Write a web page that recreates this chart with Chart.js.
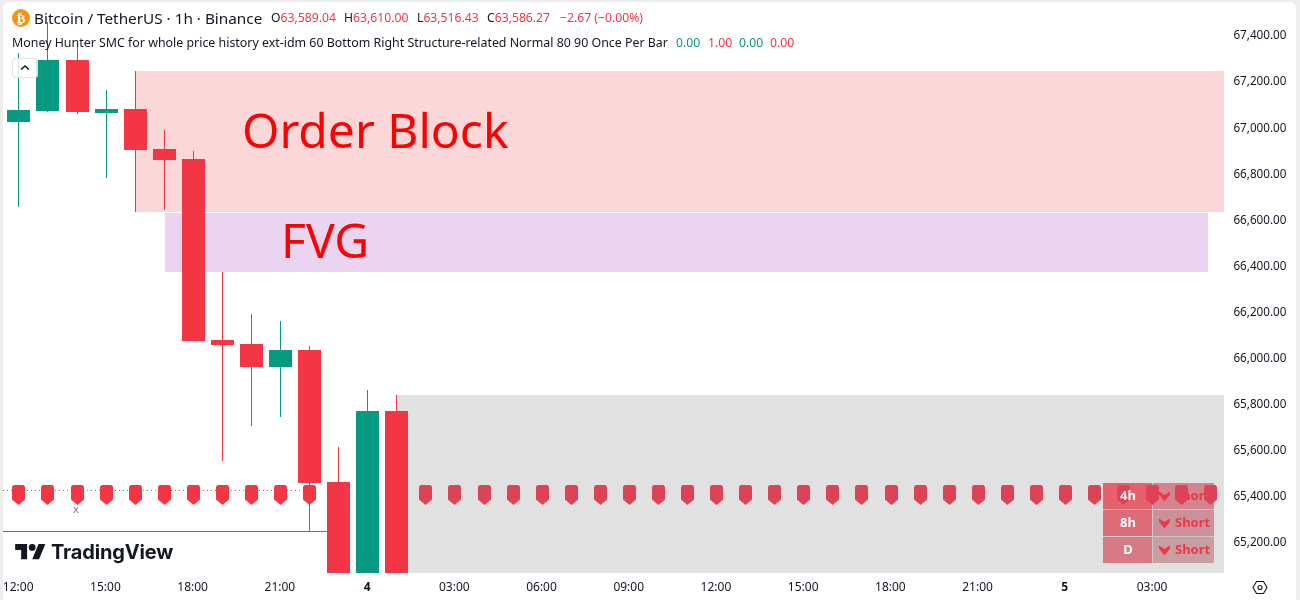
<!DOCTYPE html>
<html><head><meta charset="utf-8">
<script src="https://cdn.jsdelivr.net/npm/chart.js@4"></script>
<style>
html,body{margin:0;padding:0;width:1300px;height:600px;overflow:hidden;background:#eeeeee;font-family:"Noto Sans",sans-serif;color:#131722}
#card{position:absolute;left:3px;top:2px;width:1293px;height:620px;background:#fff;border-radius:6px}
canvas{position:absolute;left:0;top:0}
.t{position:absolute;white-space:nowrap;line-height:16px}
.r{color:#f23645}.g{color:#089981}
#btn{position:absolute;left:12px;top:58px;width:24px;height:18px;border:1px solid #e0e3eb;border-radius:3px;background:rgba(255,255,255,.8)}
</style></head><body>
<div id="card"></div>
<canvas id="c" width="1300" height="600"></canvas>
<svg style="position:absolute;left:12px;top:9px" width="18" height="18" viewBox="0 0 18 18"><circle cx="9" cy="9" r="9" fill="#f7931a"/><text x="9" y="13.5" font-size="13" font-weight="700" text-anchor="middle" fill="#fff" font-family="DejaVu Sans">₿</text></svg>
<div class="t" style="left:34px;top:10px;font-size:15.3px">Bitcoin / TetherUS · 1h · Binance</div>
<div class="t" style="left:271px;top:10px;font-size:12.2px">O<span class="r">63,589.04</span></div>
<div class="t" style="left:344px;top:10px;font-size:12.2px">H<span class="r">63,610.00</span></div>
<div class="t" style="left:417px;top:10px;font-size:12.2px">L<span class="r">63,516.43</span></div>
<div class="t" style="left:487px;top:10px;font-size:12.2px">C<span class="r">63,586.27</span></div>
<div class="t r" style="left:560px;top:10px;font-size:12.2px">−2.67 (−0.00%)</div>
<div class="t" style="left:12px;top:35px;font-size:12.4px">Money Hunter SMC for whole price history ext-idm 60 Bottom Right Structure-related Normal 80 90 Once Per Bar</div>
<div class="t g" style="left:676px;top:35px;font-size:12.2px">0.00</div>
<div class="t r" style="left:708px;top:35px;font-size:12.2px">1.00</div>
<div class="t g" style="left:739px;top:35px;font-size:12.2px">0.00</div>
<div class="t r" style="left:770px;top:35px;font-size:12.2px">0.00</div>
<div id="btn"><svg width="24" height="18" viewBox="0 0 24 18"><path d="M8 10.5l4-3.5 4 3.5" fill="none" stroke="#131722" stroke-width="1.5"/></svg></div>
<svg style="position:absolute;left:15px;top:544px" width="31" height="17" viewBox="0 0 36 20"><path d="M14 18H7V7H0V0h14v18zM28 18h-8L27.500 0h8L28 18z" fill="#131722"/><circle cx="20" cy="4" r="4" fill="#131722"/></svg>
<div class="t" style="left:51px;top:544px;font-size:20px;font-weight:700;font-family:Inter,sans-serif;letter-spacing:-.15px;color:#131722">TradingView</div>
<svg style="position:absolute;left:1252px;top:580px" width="16" height="15" viewBox="0 0 16 15"><path d="M4.5 1.5h7L15 7.5l-3.500 6h-7L1 7.500z" fill="none" stroke="#131722" stroke-width="1.100"/><circle cx="8" cy="7.500" r="2" fill="none" stroke="#131722" stroke-width="1.100"/></svg>
<script>
const xLabels=['12:00','','','15:00','','','18:00','','','21:00','','','4','','','03:00','','','06:00','','','09:00','','','12:00','','','15:00','','','18:00','','','21:00','','','5','','','03:00','',''];
const opens =[67018,67066,67287,67057,67075,66901,66858,66072,66055,65955,66029,65456,64900,65764];
const closes=[67070,67287,67062,67075,66897,66853,66068,66050,65955,66029,65452,64900,65764,64900];
const highs =[67318,67452,67348,67157,67239,66983,66892,66367,66185,66155,66046,65608,65855,65834];
const lows  =[66649,67062,67053,66775,66628,66636,66068,65547,65699,65738,65244,64800,64800,64800];
const markerValues=[65400,65400,65400,65400,65400,65400,65400,65400,65400,65400,65400,null,null,null,65400,65400,65400,65400,65400,65400,65400,65400,65400,65400,65400,65400,65400,65400,65400,65400,65400,65400,65400,65400,65400,65400,65400,65400,65400,65400,65400,65400];
const yTicks=[65200,65400,65600,65800,66000,66200,66400,66600,66800,67000,67200,67400];
const orderBlock=[66628,67239];
const fvg=[66367,66624];
const grayZone=[65061,65834];
const dottedLevel=65421;
const solidLevel=65244;
const tableRows=['4h','8h','D'];
const tableSignals=['Short','Short','Short'];

const UP='#089981',DOWN='#f23645';
const candleColor=opens.map((o,i)=>closes[i]>=o?UP:DOWN);

function shield(color){
  const c=document.createElement('canvas');c.width=13;c.height=20;
  const g=c.getContext('2d');g.fillStyle=color;g.beginPath();
  g.moveTo(2.5,0);g.lineTo(10.5,0);g.quadraticCurveTo(13,0,13,2.5);g.lineTo(13,14.5);g.lineTo(6.5,20);g.lineTo(0,14.5);g.lineTo(0,2.5);g.quadraticCurveTo(0,0,2.5,0);g.fill();
  return c;
}
const redShield=shield('#f23645'),darkShield=shield('#dc4356');

const noPad=s=>{s.paddingLeft=0;s.paddingRight=0;s.paddingTop=0;s.paddingBottom=0;};
const snap={id:'snap',afterDatasetsUpdate(ch){
  ch.data.datasets.forEach((d,k)=>{
    ch.getDatasetMeta(k).data.forEach(el=>{
      el.x=Math.floor(el.x)+0.5;
      el.y=Math.round(el.y);
      if(d.type==='bar')el.base=Math.round(el.base);
    });
  });
}};
const overlays={id:'overlays',
 beforeDatasetsDraw(ch){
  const g=ch.ctx,X=ch.scales.x,Y=ch.scales.y,R=1224;
  const band=(a,b,l,r,col)=>{const t=Math.round(Y.getPixelForValue(b)),u=Math.round(Y.getPixelForValue(a));g.fillStyle=col;g.fillRect(l,t,r-l,u-t);};
  const px=i=>Math.floor(X.getPixelForValue(i));
  g.save();
  band(orderBlock[0],orderBlock[1],px(4),R,'#fbd7da');
  band(fvg[0],fvg[1],px(5)+1,1208,'#ead4ef');
  band(grayZone[0],grayZone[1],px(13),R,'#e1e1e1');
  g.fillStyle='#ff0000';g.textBaseline='alphabetic';g.textAlign='left';
  g.font='48px "Noto Sans"';g.fillText('Order Block',242,148);
  g.fillText('FVG',281,258);
  const dy=Math.round(Y.getPixelForValue(dottedLevel))+.5;
  g.strokeStyle='#787b86';g.lineWidth=1;g.setLineDash([1,3]);g.beginPath();g.moveTo(3,dy);g.lineTo(px(10),dy);g.stroke();g.setLineDash([]);
  const sy=Math.round(Y.getPixelForValue(solidLevel))+.5;
  g.strokeStyle=DOWN;g.beginPath();g.moveTo(3,sy);g.lineTo(px(11),sy);g.stroke();
  g.fillStyle='#787b86';g.font='11px "Noto Sans"';g.textAlign='center';g.textBaseline='middle';g.fillText('x',76,510);
  const tx=1103,mx=1152,ex=1214,ty=[483,510,537],h=26;
  const lc=['#e5616e','#dd6c79','#d67b85'],rc=['#d2858f','#cb919a','#c89ea3'];
  tableRows.forEach((r,i)=>{
    g.fillStyle=lc[i];g.fillRect(tx,ty[i],mx-tx,h);
    g.fillStyle=rc[i];g.fillRect(mx+1,ty[i],ex-mx-1,h);
    g.fillStyle='#c9c9c9';g.fillRect(mx,ty[i],1,h);
    if(i<2)g.fillRect(tx,ty[i]+h,ex-tx,1);
    g.fillStyle=DOWN;const cy=ty[i]+h/2+.5;
    g.beginPath();g.moveTo(1159,cy-5);g.lineTo(1164.5,cy-1.5);g.lineTo(1170,cy-5);g.lineTo(1170,cy-2);g.lineTo(1164.5,cy+5);g.lineTo(1159,cy-2);g.fill();
    g.font='700 13px "Noto Sans"';g.textAlign='left';g.textBaseline='middle';
    g.fillText(tableSignals[i],1175,cy);
  });
  g.restore();
 },
 afterDatasetsDraw(ch){
  const g=ch.ctx,ty=[483,510,537];
  g.save();g.fillStyle='#fff';g.font='700 13px "Noto Sans"';g.textAlign='center';g.textBaseline='middle';
  tableRows.forEach((r,i)=>g.fillText(r,1128,ty[i]+13.5));
  g.restore();
 }};

new Chart(document.getElementById('c'),{
 type:'bar',
 data:{labels:xLabels,datasets:[
  {type:'line',label:'Signal',data:markerValues,showLine:false,order:0,pointStyle:ctx=>ctx.dataIndex<11?redShield:darkShield,pointRadius:10,pointHoverRadius:10,clip:false},
  {type:'bar',label:'Body',data:opens.map((o,i)=>[o,closes[i]]),backgroundColor:candleColor,barThickness:23,grouped:false,inflateAmount:0,order:1},
  {type:'bar',label:'Wick',data:highs.map((h,i)=>[lows[i],h]),backgroundColor:candleColor,barThickness:1,grouped:false,inflateAmount:0,order:2}
 ]},
 plugins:[snap,overlays],
 options:{responsive:false,animation:false,events:[],
  layout:{autoPadding:false,padding:{left:4.37,top:2,right:0,bottom:0}},
  plugins:{legend:{display:false},tooltip:{enabled:false}},
  scales:{
   x:{offset:true,grid:{display:false,drawTicks:false},border:{display:false},
      afterFit(s){s.height=27;noPad(s)},
      ticks:{autoSkip:false,maxRotation:0,minRotation:0,padding:7,labelOffset:-0.7,color:'#131722',
        font:c=>({family:'"Noto Sans"',size:12,weight:(c.tick&&(c.tick.label==='4'||c.tick.label==='5'))?'700':'400'})}},
   y:{position:'right',min:65061,max:67539,grid:{display:false,drawTicks:false},border:{display:false},
      afterFit(s){s.width=74.6;noPad(s)},
      afterBuildTicks(s){s.ticks=yTicks.map(v=>({value:v}))},
      ticks:{padding:8,labelOffset:2,color:'#131722',font:{family:'"Noto Sans"',size:11.7},
        callback:v=>v.toLocaleString('en-US',{minimumFractionDigits:2,maximumFractionDigits:2})}}
  }}
});
</script>
</body></html>
